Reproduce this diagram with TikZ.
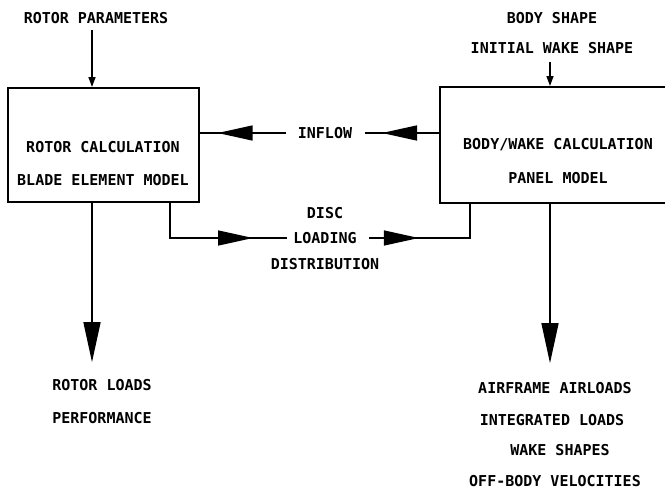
\documentclass[tikz,border=0pt]{standalone}
\usepackage{fontspec}
\setmonofont{DejaVu Sans Mono}
\usetikzlibrary{arrows.meta,decorations.markings}
\begin{document}
\begin{tikzpicture}[x=1pt,y=-1pt,
  lbl/.style={font=\ttfamily\bfseries\fontsize{15}{15}\selectfont, inner sep=0pt, anchor=center},
  box/.style={draw, line width=2pt, inner sep=0pt},
  conn/.style={line width=1.5pt},
  smallhead/.style={-{Triangle[length=10pt,width=7pt]}},
  bighead/.style={-{Triangle[length=40pt,width=17pt]}},
  midhead/.style={postaction=decorate, decoration={markings,
     mark=at position #1 with {\arrow{Triangle[length=35pt,width=15pt]}}}}
]
\useasboundingbox (0,0) rectangle (665,496);
\coordinate (lx) at (92,0);
\coordinate (rx) at (550,0);
\coordinate (dl) at (170,0);
\coordinate (dr) at (470,0);

% boxes
\node[box, minimum width=191pt, minimum height=114pt] (rotor) at (103.5,145) {};
\node[box, minimum width=230pt, minimum height=116pt] (wake) at (555,145) {};
\node[lbl] (rc) at (103,147) {ROTOR CALCULATION};
\node[lbl] (be) at (103,180) {BLADE ELEMENT MODEL};
\node[lbl] (bw) at (558,145) {BODY/WAKE CALCULATION};
\node[lbl] (pm) at (558,178) {PANEL MODEL};

% inputs
\node[lbl] (rp) at (96,18) {ROTOR PARAMETERS};
\node[lbl] (bs) at (552,18) {BODY SHAPE};
\node[lbl] (iw) at (552,48) {INITIAL WAKE SHAPE};
\draw[conn, smallhead] ([yshift=-6pt]rp.south -| lx) -- (rotor.north -| lx);
\draw[conn, smallhead] ([yshift=-8pt]iw.south -| rx) -- (wake.north -| rx);

% inflow
\node[lbl] (inflow) at (325,133) {INFLOW};
\draw[conn, midhead=57pt] (wake.west |- inflow) -- ([xshift=13pt]inflow.east);
\draw[conn, midhead=68pt] ([xshift=-12pt]inflow.west) -- (rotor.east |- inflow);

% disc loading
\node[lbl] (disc) at (325,213) {DISC};
\node[lbl] (loading) at (325,238) {LOADING};
\node[lbl] (distr) at (325,264) {DISTRIBUTION};
\draw[conn, midhead=118pt] (rotor.south -| dl) |- ([xshift=-6pt]loading.west);
\draw[conn, midhead=50pt] ([xshift=12pt]loading.east) -| (wake.south -| dr);

% outputs
\node[lbl] (rl) at (102,385) {ROTOR LOADS};
\node[lbl] (perf) at (102,418) {PERFORMANCE};
\draw[conn, bighead, shorten >=17pt] (rotor.south -| lx) -- (rl.north -| lx);

\node[lbl] (aa) at (555,388) {AIRFRAME AIRLOADS};
\node[lbl] (il) at (552,420) {INTEGRATED LOADS};
\node[lbl] (ws) at (560,450) {WAKE SHAPES};
\node[lbl] (obv) at (555,481) {OFF-BODY VELOCITIES};
\draw[conn, bighead, shorten >=19pt] (wake.south -| rx) -- (aa.north -| rx);
\end{tikzpicture}
\end{document}
